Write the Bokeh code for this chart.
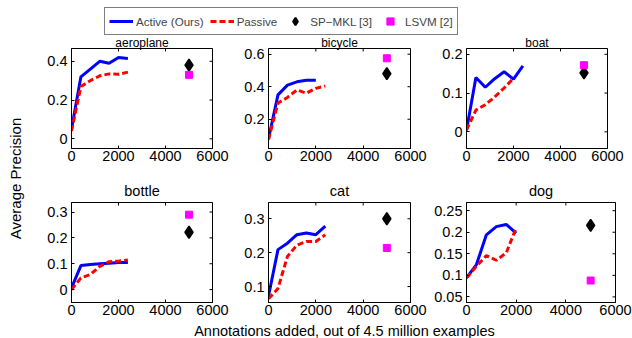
import math
from bokeh.plotting import figure
from bokeh.models import (Range1d, FixedTicker, LinearAxis, Legend, LegendItem, Label,
                          CustomJSTickFormatter, ColumnDataSource)
from bokeh.layouts import row, column
from bokeh.embed import file_html
from bokeh.resources import INLINE

FONT = "Liberation Sans"

# ---------------- data ----------------
annotations = [0, 400, 800, 1200, 1600, 2000, 2400]
categories = ["aeroplane", "bicycle", "boat", "bottle", "cat", "dog"]

aeroplane_active = [0.05, 0.32, 0.36, 0.40, 0.39, 0.42, 0.415]
aeroplane_passive = [0.04, 0.27, 0.30, 0.325, 0.335, 0.333, 0.344]
bicycle_active = [0.08, 0.35, 0.41, 0.43, 0.44, 0.44]
bicycle_passive = [0.075, 0.30, 0.334, 0.38, 0.36, 0.39, 0.404]
boat_active = [0.004, 0.14, 0.115, 0.137, 0.155, 0.136, 0.17]
boat_passive = [0.005, 0.056, 0.07, 0.09, 0.113, 0.138]
bottle_active = [0.006, 0.093, 0.097, 0.10, 0.102, 0.105, 0.105]
bottle_passive = [0.0, 0.045, 0.058, 0.09, 0.108, 0.11, 0.115]
cat_active = [0.072, 0.209, 0.228, 0.253, 0.258, 0.253, 0.278]
cat_passive = [0.064, 0.094, 0.189, 0.222, 0.233, 0.233, 0.253]
dog_active = [0.094, 0.125, 0.194, 0.213, 0.218, 0.198]
dog_passive = [0.094, 0.121, 0.146, 0.135, 0.152, 0.21]

baseline_x = 5000
sp_mkl = [0.38, 0.48, 0.152, 0.222, 0.30, 0.216]
lsvm = [0.33, 0.575, 0.172, 0.29, 0.214, 0.088]

x_limits = [0, 6000]
x_ticks = [0, 2000, 4000, 6000]
y_limits = [(-0.05, 0.466), (0.02, 0.635), (-0.043, 0.215),
            (-0.05, 0.337), (0.053, 0.348), (0.037, 0.269)]
y_ticks = [[0, 0.2, 0.4], [0.2, 0.4, 0.6], [0, 0.1, 0.2],
           [0, 0.1, 0.2, 0.3], [0.1, 0.2, 0.3], [0.05, 0.1, 0.15, 0.2, 0.25]]

active_series = [aeroplane_active, bicycle_active, boat_active,
                 bottle_active, cat_active, dog_active]
passive_series = [aeroplane_passive, bicycle_passive, boat_passive,
                  bottle_passive, cat_passive, dog_passive]

BLUE = "#0000ff"
RED = "#ff0000"
MAGENTA = "#ff00ff"

fmt_code = "return String(Number(tick.toFixed(4)));"


def make_sub(i, left, fw, right, top, fh, bottom, title_size, title_standoff, xstand):
    p = figure(width=left + fw + right, height=top + fh + bottom,
               x_range=Range1d(*x_limits), y_range=Range1d(*y_limits[i]),
               output_backend="svg", toolbar_location=None,
               min_border_left=left, min_border_right=right,
               min_border_top=top, min_border_bottom=bottom,
               x_axis_type=None, y_axis_type=None, title=categories[i])
    p.title.align = "center"
    p.title.text_font = FONT
    p.title.text_font_size = title_size
    p.title.text_font_style = "normal"
    p.title.text_color = "black"
    p.title.standoff = title_standoff
    p.outline_line_color = "black"
    p.outline_line_width = 1
    p.outline_line_alpha = 1
    p.background_fill_color = "white"
    p.border_fill_color = "white"

    def ax(ticks, standoff):
        return LinearAxis(ticker=FixedTicker(ticks=ticks),
                          formatter=CustomJSTickFormatter(code=fmt_code),
                          major_tick_in=3, major_tick_out=0,
                          minor_tick_in=0, minor_tick_out=0,
                          major_tick_line_color="black",
                          axis_line_color="black",
                          major_label_text_font=FONT,
                          major_label_text_font_size="14.5px",
                          major_label_text_color="black",
                          major_label_standoff=standoff)

    p.add_layout(ax(x_ticks, xstand), "below")
    p.add_layout(ax(y_ticks[i], 4), "left")

    # mirrored inward ticks on the top and right edges of the box
    p.scatter(x=x_ticks, y=[y_limits[i][1]] * len(x_ticks), marker="dash",
              angle=math.pi / 2, size=6, line_color="black", line_width=1)
    p.scatter(x=[x_limits[1]] * len(y_ticks[i]), y=y_ticks[i], marker="dash",
              size=6, line_color="black", line_width=1)

    act = active_series[i]
    pas = passive_series[i]
    p.line(x=annotations[:len(act)], y=act, line_color=BLUE, line_width=3)
    p.line(x=annotations[:len(pas)], y=pas, line_color=RED, line_width=3,
           line_dash="6 3")
    p.scatter(x=[baseline_x], y=[sp_mkl[i]], marker="diamond", size=12,
              fill_color="black", line_color="black", line_width=1.5)
    p.scatter(x=[baseline_x], y=[lsvm[i]], marker="square", size=7,
              fill_color=MAGENTA, line_color=MAGENTA, line_width=1)
    return p


# column geometry: (left border, frame width, right border)
cols = [(33, 141, 28), (28, 142, 20), (36, 141, 25)]
dog_col = (36, 149, 17)

row1 = []
for i in range(3):
    l, w, r = cols[i]
    row1.append(make_sub(i, l, w, r, 12, 101, 25, "12px", -3, 2))
row2 = []
for i in range(3, 6):
    l, w, r = cols[i - 3] if i != 5 else dog_col
    row2.append(make_sub(i, l, w, r, 29, 100, 20, "14.5px", 7, 2))

# legend figure
lg = figure(width=632, height=35, x_range=Range1d(0, 1), y_range=Range1d(0, 1),
            output_backend="svg", toolbar_location=None, min_border=0,
            x_axis_type=None, y_axis_type=None)
lg.outline_line_color = None
nan = float("nan")


def dummy():
    return ColumnDataSource(dict(x=[nan], y=[nan]))


r_act = lg.line(x="x", y="y", source=dummy(), line_color=BLUE, line_width=3)
r_pas = lg.line(x="x", y="y", source=dummy(), line_color=RED, line_width=3,
                line_dash="6 3")
r_sp = lg.scatter(x="x", y="y", source=dummy(), marker="diamond",
                  fill_color="black", line_color="black", line_width=2)
r_ls = lg.scatter(x="x", y="y", source=dummy(), marker="square",
                  fill_color=MAGENTA, line_color=MAGENTA)
legend = Legend(items=[LegendItem(label="Active (Ours)", renderers=[r_act]),
                       LegendItem(label="Passive", renderers=[r_pas]),
                       LegendItem(label="SP\u2212MKL [3]", renderers=[r_sp]),
                       LegendItem(label="LSVM [2]", renderers=[r_ls])],
                orientation="horizontal", location=(104, 0),
                border_line_color="black", border_line_width=1,
                label_text_font=FONT, label_text_font_size="11.6px",
                glyph_width=24, glyph_height=18, label_height=18,
                label_standoff=3, spacing=6, padding=4, margin=0)
lg.add_layout(legend, "center")

# y label figure
yl = figure(width=38, height=287, x_range=Range1d(0, 38), y_range=Range1d(0, 287),
            output_backend="svg", toolbar_location=None, min_border=0,
            x_axis_type=None, y_axis_type=None)
yl.outline_line_color = None
yl.add_layout(Label(x=15, y=144, text="Average Precision", angle=math.pi / 2,
                    text_align="center", text_baseline="middle",
                    text_font=FONT, text_font_size="15px", text_color="black"))

# x label figure
xl = figure(width=632, height=16, x_range=Range1d(0, 632), y_range=Range1d(0, 16),
            output_backend="svg", toolbar_location=None, min_border=0,
            x_axis_type=None, y_axis_type=None)
xl.outline_line_color = None
xl.add_layout(Label(x=344, y=8, text="Annotations added, out of 4.5 million examples",
                    text_align="center", text_baseline="middle",
                    text_font=FONT, text_font_size="14.5px", text_color="black"))

grid = column(row(*row1), row(*row2))
layout = column(lg, row(yl, grid), xl)

open("out.html", "w").write(file_html(layout, INLINE))
